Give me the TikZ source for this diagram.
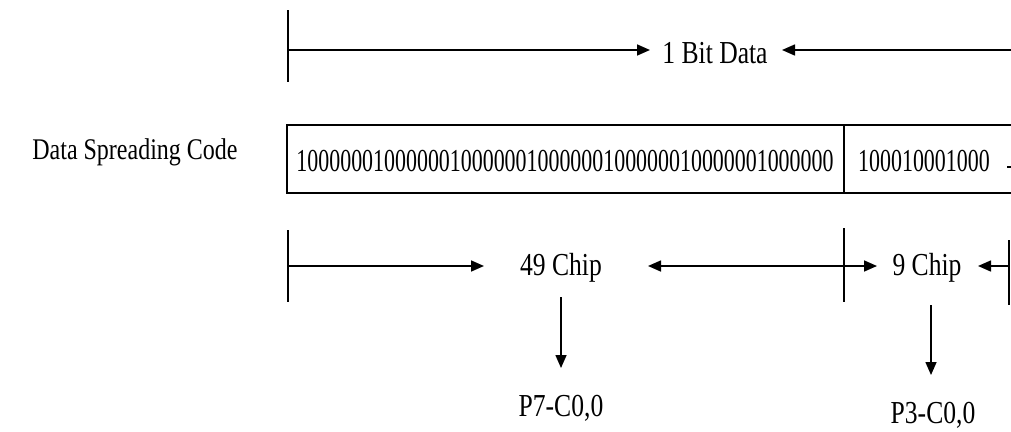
\documentclass[tikz,border=0pt]{standalone}
\usepackage{fontspec}
\setmainfont{Liberation Serif}[FakeStretch=0.8]
\newfontfamily\digitfont{Liberation Serif}[FakeStretch=0.685]
\usetikzlibrary{arrows.meta}
\begin{document}
\begin{tikzpicture}[x=1pt,y=-1pt,
  ln/.style={line width=1.6pt},
  arr/.style={line width=1.6pt,-{Triangle[length=13pt,width=11pt]}},
  lbl/.style={font=\fontsize{32}{38}\selectfont, inner sep=0pt, anchor=base},
  side/.style={font=\fontsize{30}{36}\selectfont, inner sep=0pt, anchor=base},
  code/.style={font=\digitfont\fontsize{32}{38}\selectfont, inner sep=0pt, anchor=base},
]
\useasboundingbox (0,0) rectangle (1011,431);
\clip (0,0) rectangle (1011,431);

% top row: 1 Bit Data
\coordinate (ta) at (288,10);
\coordinate (tb) at (288,82);
\coordinate (tm) at (288,50);
\coordinate (tr) at (1013,50);
\coordinate (ttipl) at (650,50);
\coordinate (ttipr) at (782,50);
\draw[ln] (ta) -- (tb);
\node[lbl] (bit) at (715,63) {1 Bit Data};
\draw[arr] (tm) -- (ttipl);
\draw[arr] (tr) -- (ttipr);

% label
\node[side] (dsc) at (135,159) {Data Spreading Code};

% box
\coordinate (bx1) at (1013,125);
\coordinate (bx2) at (287,125);
\coordinate (bx3) at (287,193);
\coordinate (bx4) at (1013,193);
\coordinate (dv1) at (844,125);
\coordinate (dv2) at (844,193);
\draw[ln] (bx1) -- (bx2) -- (bx3) -- (bx4);
\draw[ln] (dv1) -- (dv2);
\node[code] (c1) at (565,171) {1000000100000010000001000000100000010000001000000};
\node[code, anchor=base west] (c2) at (858,171) {100010001000};
\coordinate (da) at (1007,167);
\coordinate (db) at (1013,167);
\draw[line width=1.2pt] (da) -- (db);

% bottom row
\coordinate (k1a) at (288,230);
\coordinate (k1b) at (288,302);
\coordinate (k1m) at (288,266);
\coordinate (k2a) at (844,228);
\coordinate (k2b) at (844,302);
\coordinate (k2m) at (844,266);
\coordinate (k3a) at (1009,240);
\coordinate (k3b) at (1009,305);
\coordinate (k3m) at (1009,266);
\draw[ln] (k1a) -- (k1b);
\draw[ln] (k2a) -- (k2b);
\draw[ln] (k3a) -- (k3b);

\node[lbl] (c49) at (561,275) {49 Chip};
\node[lbl] (c9) at (927,275) {9 Chip};
\coordinate (p1) at (484,266);
\coordinate (p2) at (648,266);
\coordinate (p3) at (877,266);
\coordinate (p4) at (978,266);
\draw[arr] (k1m) -- (p1);
\draw[arr] (k2m) -- (p2);
\draw[arr] (k2m) -- (p3);
\draw[arr] (k3m) -- (p4);

% down arrows
\coordinate (d1a) at (561,297);
\coordinate (d1b) at (561,368);
\coordinate (d2a) at (931,305);
\coordinate (d2b) at (931,375);
\draw[arr] (d1a) -- (d1b);
\draw[arr] (d2a) -- (d2b);
\node[lbl] (p7) at (561,416) {P7-C0,0};
\node[lbl] (p3n) at (933,423) {P3-C0,0};
\end{tikzpicture}
\end{document}
